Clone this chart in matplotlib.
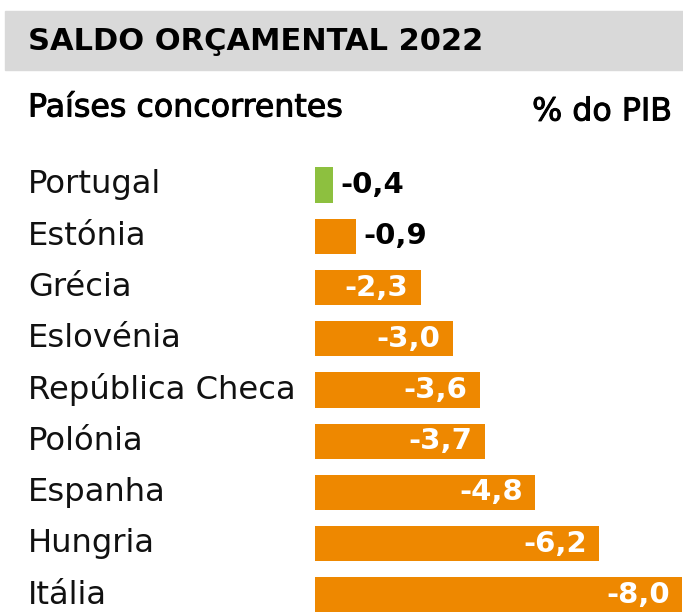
import matplotlib.pyplot as plt
import matplotlib.patheffects as pe
from matplotlib.patches import Rectangle
from matplotlib.transforms import blended_transform_factory

paises = ['Portugal', 'Estónia', 'Grécia', 'Eslovénia', 'República Checa',
          'Polónia', 'Espanha', 'Hungria', 'Itália']
saldo = [-0.4, -0.9, -2.3, -3.0, -3.6, -3.7, -4.8, -6.2, -8.0]
destaque = 'Portugal'

W, H = 683, 612
fig = plt.figure(figsize=(W / 100, H / 100), dpi=100)
plt.rcParams['font.family'] = ['DejaVu Sans']

# faixa do titulo
fig.patches.append(Rectangle((5 / W, 1 - 70 / H), 1, 59 / H, transform=fig.transFigure,
                             color='#d9d9d9', zorder=0))
fig.text(28 / W, 1 - 42 / H, 'SALDO ORÇAMENTAL 2022', fontsize=22, fontweight='bold',
         va='center', ha='left')
meio = [pe.withStroke(linewidth=0.7, foreground='black')]
fig.text(28 / W, 1 - 108 / H, 'Países concorrentes', fontsize=22.8,
         va='center', ha='left', path_effects=meio)
fig.text(672 / W, 1 - 112 / H, '% do PIB', fontsize=22.8,
         va='center', ha='right', path_effects=meio)

x0 = 315
ax = fig.add_axes([x0 / W, 0, (W - x0) / W, 1])
passo = 51.25
topo = 185
ax.set_ylim((H - topo) / passo, -topo / passo)
ax.set_xlim(0, 8.02)
ax.axis('off')

valores = [-v for v in saldo]
cores = ['#8dc03f' if p == destaque else '#ee8800' for p in paises]
pos = list(range(len(paises)))
ax.barh(pos, valores, height=0.69, color=cores)

tr = blended_transform_factory(fig.transFigure, ax.transData)
for i, (p, v) in enumerate(zip(paises, saldo)):
    ax.text(28 / W, i, p, transform=tr, fontsize=23.2, va='center', ha='left', color='#111111')
    txt = f'{v:.1f}'.replace('.', ',')
    if -v < 1.5:
        ax.annotate(txt, (-v, i), xytext=(5, 0), textcoords='offset points',
                    fontsize=21, fontweight='bold', va='center', ha='left', color='black')
    else:
        ax.annotate(txt, (-v, i), xytext=(-9, 0), textcoords='offset points',
                    fontsize=21, fontweight='bold', va='center', ha='right', color='white')

fig.savefig('out.png', dpi=100)
